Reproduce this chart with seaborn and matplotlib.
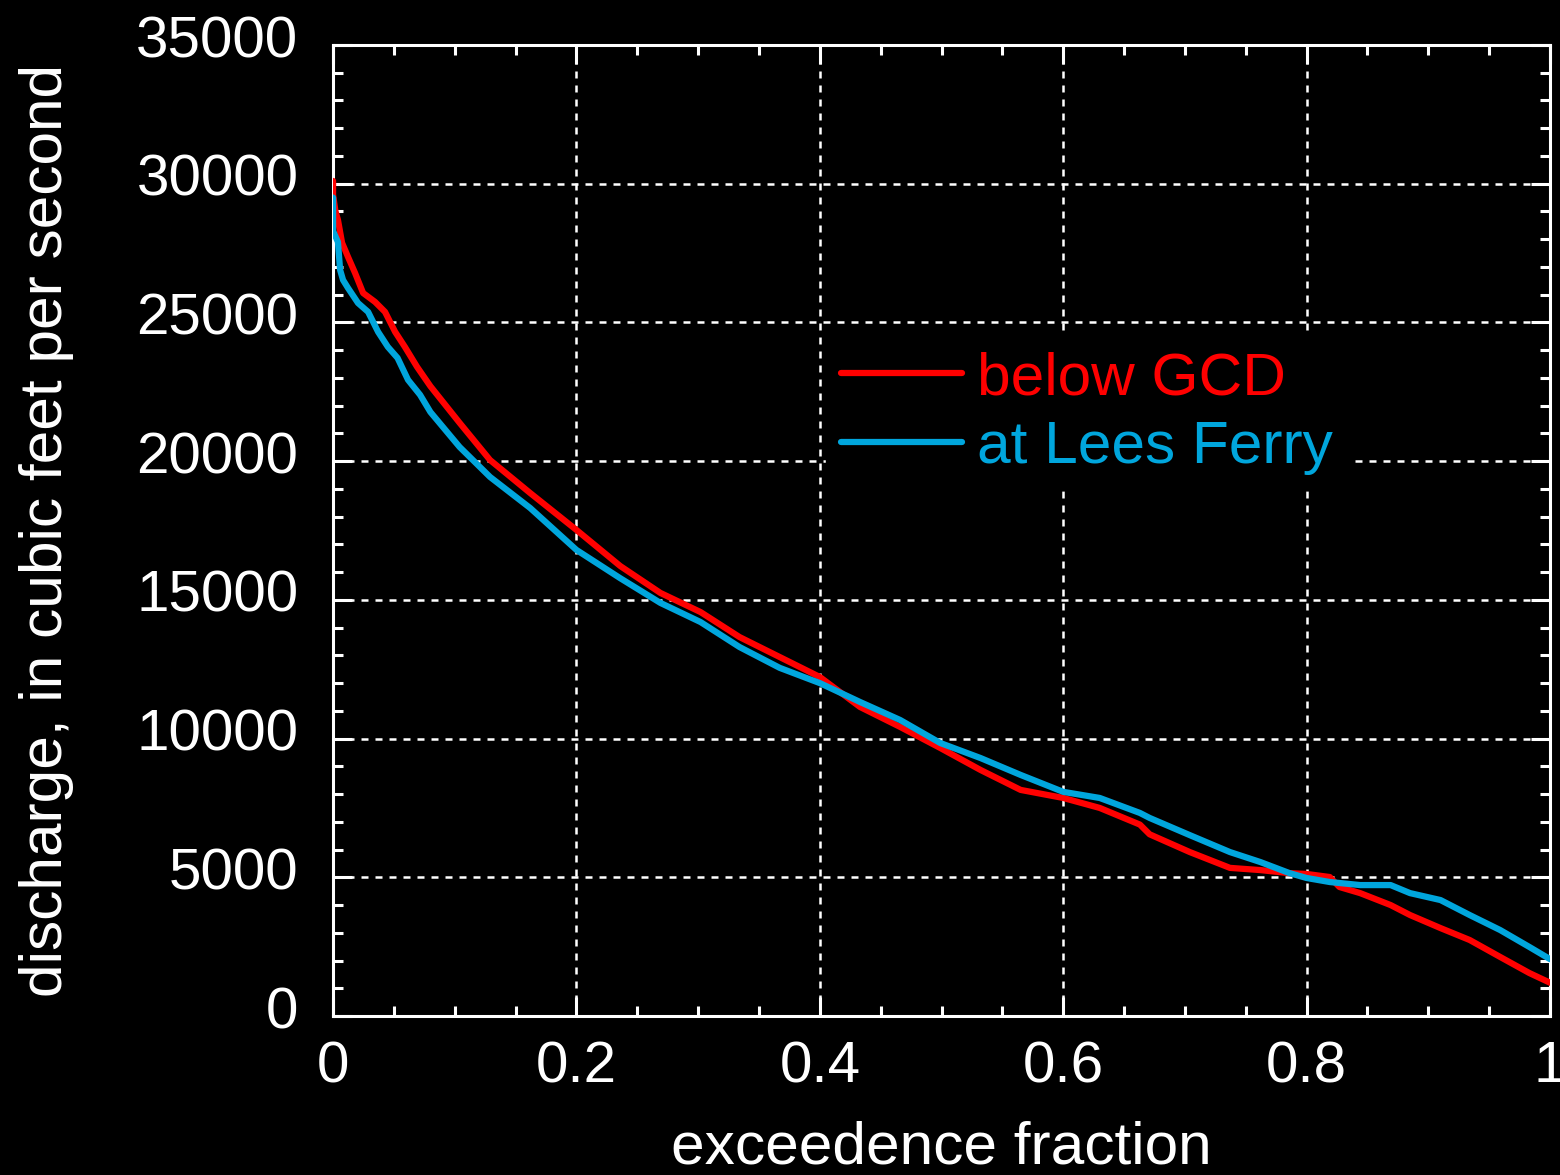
import numpy as np
import pandas as pd
import matplotlib
matplotlib.use("Agg")
import matplotlib.pyplot as plt
from matplotlib.ticker import MultipleLocator
from matplotlib.transforms import ScaledTranslation
import seaborn as sns

# Flow duration curves
gcd_frac = [0.0, 0.0, 0.002, 0.004, 0.0074, 0.0123, 0.018, 0.0247, 0.0345, 0.0427,
            0.051, 0.059, 0.069, 0.080, 0.104, 0.129, 0.162, 0.200, 0.236, 0.269,
            0.302, 0.334, 0.367, 0.400, 0.433, 0.466, 0.499, 0.532, 0.565, 0.600,
            0.630, 0.663, 0.671, 0.704, 0.737, 0.762, 0.786, 0.800, 0.819, 0.827,
            0.844, 0.869, 0.885, 0.910, 0.934, 0.959, 0.983, 1.0]
gcd_flow = [30100, 29600, 29000, 28700, 27870, 27360, 26790, 26060, 25740, 25380,
            24660, 24120, 23400, 22700, 21380, 20040, 18850, 17520, 16220, 15250,
            14560, 13660, 12940, 12220, 11140, 10420, 9660, 8870, 8150, 7860,
            7500, 6900, 6550, 5910, 5340, 5260, 5150, 5120, 5010, 4650,
            4430, 4000, 3640, 3170, 2740, 2130, 1550, 1200]

lees_frac = [0.0, 0.0, 0.004, 0.0058, 0.0082, 0.0123, 0.0205, 0.0288, 0.037, 0.045,
             0.053, 0.0616, 0.0715, 0.080, 0.104, 0.129, 0.162, 0.200, 0.236, 0.269,
             0.302, 0.334, 0.367, 0.400, 0.433, 0.466, 0.499, 0.532, 0.565, 0.600,
             0.630, 0.663, 0.671, 0.704, 0.737, 0.762, 0.786, 0.800, 0.819, 0.844,
             0.869, 0.885, 0.910, 0.934, 0.959, 0.983, 1.0]
lees_flow = [29500, 28300, 27900, 26890, 26530, 26240, 25700, 25380, 24660, 24120,
             23720, 22930, 22390, 21770, 20510, 19430, 18310, 16800, 15780, 14890,
             14200, 13300, 12550, 12000, 11320, 10670, 9840, 9300, 8690, 8080,
             7860, 7320, 7140, 6520, 5910, 5550, 5150, 4975, 4830, 4720,
             4720, 4430, 4180, 3640, 3100, 2490, 2050]

labels = ["below GCD", "at Lees Ferry"]
colors = ["#ff0000", "#00a6dd"]

df = pd.concat([
    pd.DataFrame({"frac": gcd_frac, "flow": gcd_flow, "site": labels[0]}),
    pd.DataFrame({"frac": lees_frac, "flow": lees_flow, "site": labels[1]}),
], ignore_index=True)

sns.set_theme(style="dark", rc={
    "figure.facecolor": "black", "axes.facecolor": "black",
    "axes.edgecolor": "white", "text.color": "white",
    "xtick.color": "white", "ytick.color": "white",
    "axes.labelcolor": "white",
})
plt.rcParams["font.family"] = ["Liberation Sans", "DejaVu Sans"]

fig = plt.figure(figsize=(15.6, 11.75), dpi=100)
ax = fig.add_axes([0.2135, 0.1353, 0.7801, 0.8264])

sns.lineplot(data=df, x="frac", y="flow", hue="site", palette=colors,
             hue_order=labels, sort=False, estimator=None, linewidth=4.5,
             ax=ax, zorder=3)

ax.set_xlim(0, 1)
ax.set_ylim(0, 35000)
ax.xaxis.set_minor_locator(MultipleLocator(0.05))
ax.yaxis.set_major_locator(MultipleLocator(5000))
ax.yaxis.set_minor_locator(MultipleLocator(1000))
ax.set_xticks([0, 0.2, 0.4, 0.6, 0.8, 1.0])
ax.set_xticklabels(["0", "0.2", "0.4", "0.6", "0.8", "1"])

for s in ax.spines.values():
    s.set_visible(True)
    s.set_color("white")
    s.set_linewidth(2.2)

ax.tick_params(which="both", direction="in", top=True, right=True,
               bottom=True, left=True, color="white", width=2.2)
ax.tick_params(which="major", length=14, labelsize=42)
ax.tick_params(axis="x", which="major", pad=17.5)
ax.tick_params(axis="y", which="major", pad=25)
ax.tick_params(which="minor", length=7)

# y tick labels sit a little above their ticks in the original
lift = ScaledTranslation(0, 9 / 100, fig.dpi_scale_trans)
for lab in ax.get_yticklabels():
    lab.set_transform(lab.get_transform() + lift)

ax.grid(True, which="major", color="white", linestyle=(0, (2.8, 2.8)),
        linewidth=1.8, zorder=1)
ax.set_axisbelow(True)

ax.set_xlabel("exceedence fraction", fontsize=43.5, labelpad=19)
ax.set_ylabel("discharge, in cubic feet per second", fontsize=43.5, labelpad=45)

leg = ax.legend(loc="upper left", bbox_to_anchor=(0.405, 0.70),
                borderaxespad=0, fontsize=43.5, handlelength=2.0,
                handletextpad=0.25, labelspacing=0.23, borderpad=0.25,
                frameon=True, facecolor="black", edgecolor="black",
                framealpha=1, fancybox=False)
leg.set_zorder(5)
for txt, c in zip(leg.get_texts(), colors):
    txt.set_color(c)
for ln in leg.get_lines():
    ln.set_linewidth(4.5)

fig.savefig("out.png", dpi=100, facecolor="black")
